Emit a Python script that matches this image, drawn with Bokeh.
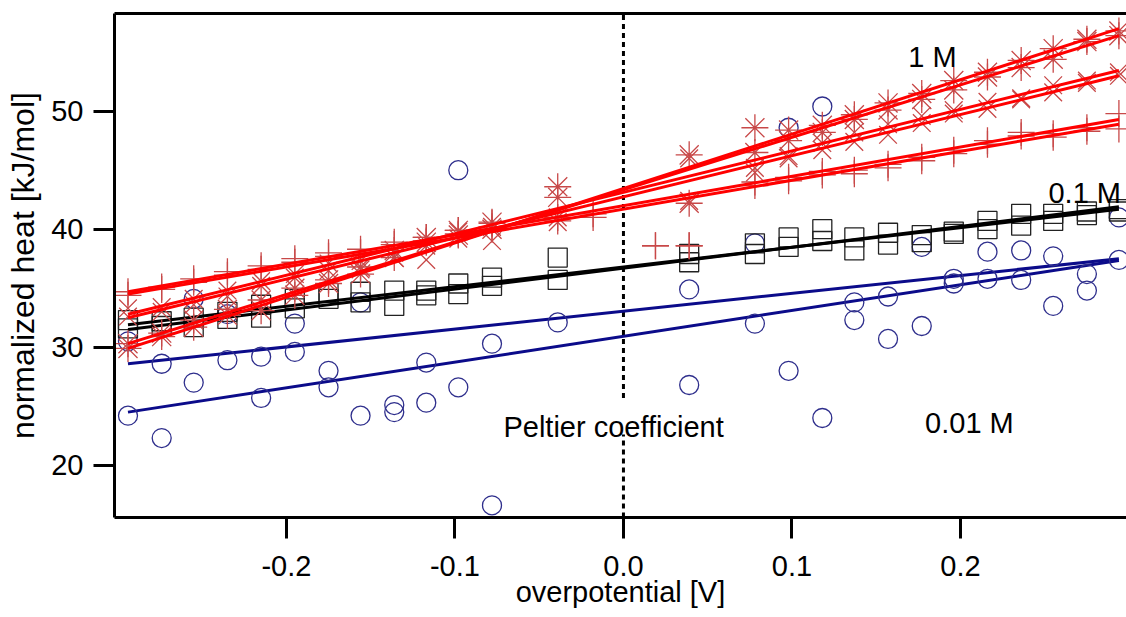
from bokeh.plotting import figure
from bokeh.models import Range1d, LinearAxis, FixedTicker, Label, NumeralTickFormatter
from bokeh.embed import file_html
from bokeh.resources import INLINE

# ---------------- data ----------------
xcols = [-0.294, -0.274, -0.255, -0.235, -0.215, -0.195, -0.175, -0.156, -0.136, -0.117,
         -0.098, -0.078, -0.039, 0.039, 0.078, 0.098, 0.118, 0.137, 0.157, 0.177,
         0.196, 0.216, 0.236, 0.255, 0.275, 0.294]

# 0.01 M (blue circles)
circ_a = [30.5, 28.6, 34.1, 32.8, 29.2, 32.0, 28.0, 33.8, 25.1, 28.7, 45.0, 30.3, 32.1,
          34.9, 38.8, 48.6, 50.4, 33.8, 34.3, 38.5, 35.8, 38.1, 38.2, 37.7, 36.2, 41.0]
circ_b_x = [-0.294, -0.274, -0.255, -0.235, -0.215, -0.195, -0.175, -0.156, -0.136, -0.117,
            -0.098, -0.078, 0.039, 0.078, 0.098, 0.118, 0.137, 0.157, 0.177,
            0.196, 0.216, 0.236, 0.255, 0.275, 0.294]
circ_b = [24.2, 22.3, 27.0, 28.9, 25.7, 29.6, 26.6, 24.2, 24.5, 25.3, 26.6, 16.6,
          26.8, 32.0, 28.0, 24.0, 32.3, 30.7, 31.8, 35.4, 35.8, 35.7, 33.5, 34.8, 37.4]

# 0.1 M (black squares)
sq_a = [32.3, 32.2, 32.5, 33.0, 33.6, 34.1, 34.6, 34.7, 34.8, 34.8, 35.4, 35.9, 37.6,
        37.9, 38.8, 39.3, 40.0, 39.3, 39.7, 39.5, 39.8, 40.7, 41.3, 41.3, 41.5, 41.7]
sq_b = [31.6, 31.8, 31.7, 32.4, 32.5, 33.3, 34.1, 33.8, 33.5, 34.4, 34.5, 35.2, 35.7,
        37.2, 37.9, 38.5, 39.0, 38.2, 38.7, 38.9, 39.6, 40.0, 40.3, 40.7, 41.2, 41.5]

# 1 M (red asterisks, crosses, plus signs)
ast_a = [29.9, 30.9, 31.7, 32.7, 33.1, 34.4, 35.7, 36.2, 38.2, 39.3, 39.9, 40.6, 43.6,
         46.3, 48.6, 48.4, 48.8, 49.7, 50.7, 51.5, 52.6, 53.3, 54.3, 55.3, 56.1, 56.8]
ast_b = [30.3, 31.2, 32.3, 33.2, 34.0, 35.0, 35.4, 36.8, 37.6, 38.9, 39.5, 40.0, 42.7,
         42.2, 46.5, 47.5, 48.2, 49.3, 50.1, 51.0, 51.8, 52.9, 53.7, 54.4, 55.9, 56.4]
xm_a = [33.3, 33.4, 34.1, 34.8, 35.6, 35.9, 37.1, 36.6, 37.6, 37.4, 39.8, 40.2, 41.0,
        46.0, 45.2, 46.2, 47.3, 48.2, 48.9, 49.6, 50.1, 50.8, 51.0, 52.2, 52.6, 53.3]
xm_b = [32.6, 33.0, 33.6, 34.3, 35.2, 36.2, 36.5, 37.3, 38.0, 38.6, 39.2, 39.0, 40.6,
        42.4, 44.8, 46.0, 46.7, 47.4, 48.0, 49.0, 49.8, 50.2, 51.1, 51.6, 52.4, 53.0]
plus_x = [-0.294, -0.274, -0.255, -0.235, -0.215, -0.195, -0.175, -0.156, -0.136, -0.117,
          -0.098, -0.078, -0.039, -0.018, 0.019, 0.039, 0.078, 0.098, 0.118, 0.137, 0.157,
          0.177, 0.196, 0.216, 0.236, 0.255, 0.275, 0.294]
plus_a = [34.7, 35.1, 35.8, 36.4, 36.9, 37.2, 38.0, 38.3, 38.7, 39.3, 39.9, 40.5, 41.0,
          41.3, 38.6, 38.6, 44.0, 44.1, 44.9, 44.7, 45.5, 46.1, 46.7, 47.5, 48.2, 47.8,
          48.6, 49.8]
plus_b = [34.4, 34.9, 35.5, 36.1, 36.6, 37.5, 37.7, 38.0, 38.9, 39.0, 39.6, 40.2, 40.7,
          41.0, 38.6, 38.6, 43.7, 44.4, 44.6, 45.0, 45.2, 45.8, 46.4, 47.2, 47.9, 48.1,
          48.3, 48.5]

# linear fits (end points)
fit_x = [-0.294, 0.294]
blue_fit_a = [28.6, 37.5]
blue_fit_b = [24.5, 37.35]
black_fit_a = [31.5, 41.9]
black_fit_b = [31.9, 41.7]
ast_fit_a = [29.9, 57.0]
ast_fit_b = [30.3, 56.4]
xm_fit_a = [32.8, 53.45]
xm_fit_b = [32.5, 53.0]
plus_fit_a = [34.7, 49.3]
plus_fit_b = [34.5, 48.9]

x_ticks = [-0.2, -0.1, 0.0, 0.1, 0.2]
y_ticks = [20, 30, 40, 50]

# ---------------- styling ----------------
FONT = "Liberation Sans"
BLUE_M = "#2e2e8c"
BLUE_L = "#0b0b8a"
RED_M = "#c84848"
RED_L = "#ff0000"
X0, X1 = -0.302, 0.2985
Y0, Y1 = 15.57, 58.28

p = figure(width=1126, height=617, output_backend="svg", toolbar_location=None,
           x_range=Range1d(X0, X1), y_range=Range1d(Y0, Y1),
           min_border_left=114, min_border_right=0, min_border_top=13,
           min_border_bottom=100)
p.outline_line_color = None
p.grid.visible = False
p.background_fill_color = "white"
p.border_fill_color = "white"

for ax in (p.xaxis[0], p.yaxis[0]):
    ax.axis_line_width = 3
    ax.axis_line_color = "black"
    ax.major_tick_line_width = 3
    ax.major_tick_line_color = "black"
    ax.major_tick_out = 21
    ax.major_tick_in = 0
    ax.minor_tick_line_color = None
    ax.major_label_text_font = FONT
    ax.major_label_text_font_size = "29px"
    ax.major_label_text_color = "black"
    ax.axis_label_text_font = FONT
    ax.axis_label_text_font_style = "normal"
    ax.axis_label_text_color = "black"

p.xaxis.ticker = FixedTicker(ticks=x_ticks)
p.xaxis.formatter = NumeralTickFormatter(format="0.0")
p.xaxis.major_label_standoff = 17
p.xaxis.axis_label = "overpotential [V]"
p.xaxis.axis_label_text_font_size = "29px"
p.xaxis.axis_label_standoff = -3

p.yaxis.ticker = FixedTicker(ticks=y_ticks)
p.yaxis.major_label_standoff = 10
p.yaxis.axis_label = "normalized heat [kJ/mol]"
p.yaxis.axis_label_text_font_size = "32px"
p.yaxis.axis_label_standoff = 7

top = LinearAxis(ticker=FixedTicker(ticks=[]), axis_line_width=3, axis_line_color="black",
                 major_tick_out=0, major_tick_in=0, minor_tick_out=0, minor_tick_in=0,
                 major_label_text_font_size="0px")
p.add_layout(top, "above")

# dotted zero line (interrupted by the label)
p.line([0, 0], [Y0, 22.6], line_color="black", line_width=3, line_dash="5 4")
p.line([0, 0], [25.7, Y1], line_color="black", line_width=3, line_dash="5 4")

# 0.01 M
p.line(fit_x, blue_fit_a, line_color=BLUE_L, line_width=3)
p.line(fit_x, blue_fit_b, line_color=BLUE_L, line_width=3)
p.scatter(xcols, circ_a, marker="circle", size=19, fill_color=None, line_color=BLUE_M, line_width=1.3)
p.scatter(circ_b_x, circ_b, marker="circle", size=19, fill_color=None, line_color=BLUE_M, line_width=1.3)

# 0.1 M
p.scatter(xcols, sq_a, marker="square", size=19, fill_color=None, line_color="#222222", line_width=1.3)
p.scatter(xcols, sq_b, marker="square", size=19, fill_color=None, line_color="#222222", line_width=1.3)
p.line(fit_x, black_fit_a, line_color="black", line_width=3)
p.line(fit_x, black_fit_b, line_color="black", line_width=3)

# 1 M
p.scatter(xcols, ast_a, marker="asterisk", size=27, line_color=RED_M, line_width=1.3)
p.scatter(xcols, ast_b, marker="asterisk", size=27, line_color=RED_M, line_width=1.3)
p.scatter(xcols, xm_a, marker="x", size=25, line_color=RED_M, line_width=1.3)
p.scatter(xcols, xm_b, marker="x", size=25, line_color=RED_M, line_width=1.3)
p.scatter(plus_x, plus_a, marker="cross", size=27, line_color=RED_M, line_width=1.3)
p.scatter(plus_x, plus_b, marker="cross", size=27, line_color=RED_M, line_width=1.3)
for fy in (ast_fit_a, ast_fit_b, xm_fit_a, xm_fit_b, plus_fit_a, plus_fit_b):
    p.line(fit_x, fy, line_color=RED_L, line_width=3)

# annotations
for tx, ty, tt in [(0.169, 54.6, "1 M"), (0.2522, 43.1, "0.1 M"),
                   (0.179, 23.56, "0.01 M"), (-0.0712, 23.22, "Peltier coefficient")]:
    p.add_layout(Label(x=tx, y=ty, text=tt, text_font=FONT, text_font_size="29px",
                       text_color="black", text_baseline="alphabetic", text_align="left"))

open("out.html", "w").write(file_html(p, INLINE))
